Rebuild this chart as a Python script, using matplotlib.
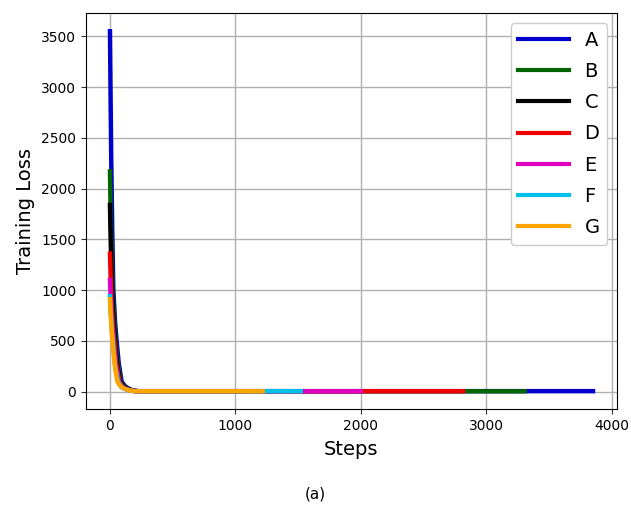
import matplotlib
matplotlib.use("Agg")
import matplotlib.pyplot as plt

# Series labels and colours
labels = ["A", "B", "C", "D", "E", "F", "G"]
colors = ["#0000cc", "#006400", "#000000", "#ee0000", "#e000c0", "#00c0ec", "#ffa500"]

# (step, loss) points
steps_a = [0, 5, 10, 18, 27, 40, 53, 70, 93, 120, 150, 180, 228, 600, 1500, 2500, 3300, 3850]
loss_a = [3550, 2900, 2300, 1600, 1000, 700, 500, 280, 100, 55, 30, 15, 6, 6, 6, 6, 6, 6]

steps_b = [0, 5, 10, 18, 27, 45, 60, 85, 110, 140, 175, 220, 600, 1500, 2500, 3305]
loss_b = [2170, 1800, 1500, 1150, 850, 500, 300, 100, 55, 30, 14, 5, 5, 5, 5, 5]

steps_c = [0, 5, 10, 18, 27, 40, 55, 80, 105, 135, 170, 215, 600, 1100]
loss_c = [1840, 1530, 1280, 980, 730, 500, 290, 100, 52, 28, 13, 5, 5, 5]

steps_d = [0, 5, 10, 18, 25, 35, 50, 75, 100, 130, 165, 210, 600, 1500, 2815]
loss_d = [1360, 1150, 980, 770, 620, 500, 280, 100, 50, 27, 12, 5, 5, 5, 5]

steps_e = [0, 5, 10, 15, 20, 28, 45, 70, 95, 128, 162, 208, 600, 1300, 1998]
loss_e = [1100, 940, 810, 700, 610, 500, 270, 100, 48, 26, 12, 5, 5, 5, 5]

steps_f = [0, 5, 10, 15, 20, 24, 40, 65, 90, 125, 160, 206, 600, 1100, 1521]
loss_f = [940, 810, 710, 620, 545, 500, 260, 100, 45, 25, 12, 5, 5, 5, 5]

steps_g = [0, 5, 10, 15, 20, 30, 45, 59, 80, 100, 125, 160, 205, 500, 900, 1217]
loss_g = [910, 770, 670, 580, 500, 360, 200, 100, 60, 40, 25, 12, 5, 5, 5, 5]

series = [
    (steps_a, loss_a), (steps_b, loss_b), (steps_c, loss_c), (steps_d, loss_d),
    (steps_e, loss_e), (steps_f, loss_f), (steps_g, loss_g),
]

fig = plt.figure(figsize=(6.31, 5.09), dpi=100)
ax = fig.add_axes([0.136, 0.196, 0.842, 0.778])

for (xs, ys), lab, col in zip(series, labels, colors):
    ax.plot(xs, ys, color=col, linewidth=3.2, label=lab)

ax.set_xticks([0, 1000, 2000, 3000, 4000])
ax.set_yticks([0, 500, 1000, 1500, 2000, 2500, 3000, 3500])
ax.tick_params(labelsize=10, color="#333333")
ax.grid(True, color="#b0b0b0", linewidth=1)
ax.set_axisbelow(True)
ax.set_xlabel("Steps", fontsize=14, labelpad=5)
ax.set_ylabel("Training Loss", fontsize=14)

leg = ax.legend(loc="upper right", fontsize=14, handlelength=2.6, labelspacing=0.63,
                borderaxespad=0.5, framealpha=1)
for line in leg.get_lines():
    line.set_linewidth(3)

fig.text(0.5, 0.03, "(a)", ha="center", va="center", fontsize=11)

fig.savefig("out.png", dpi=100)
